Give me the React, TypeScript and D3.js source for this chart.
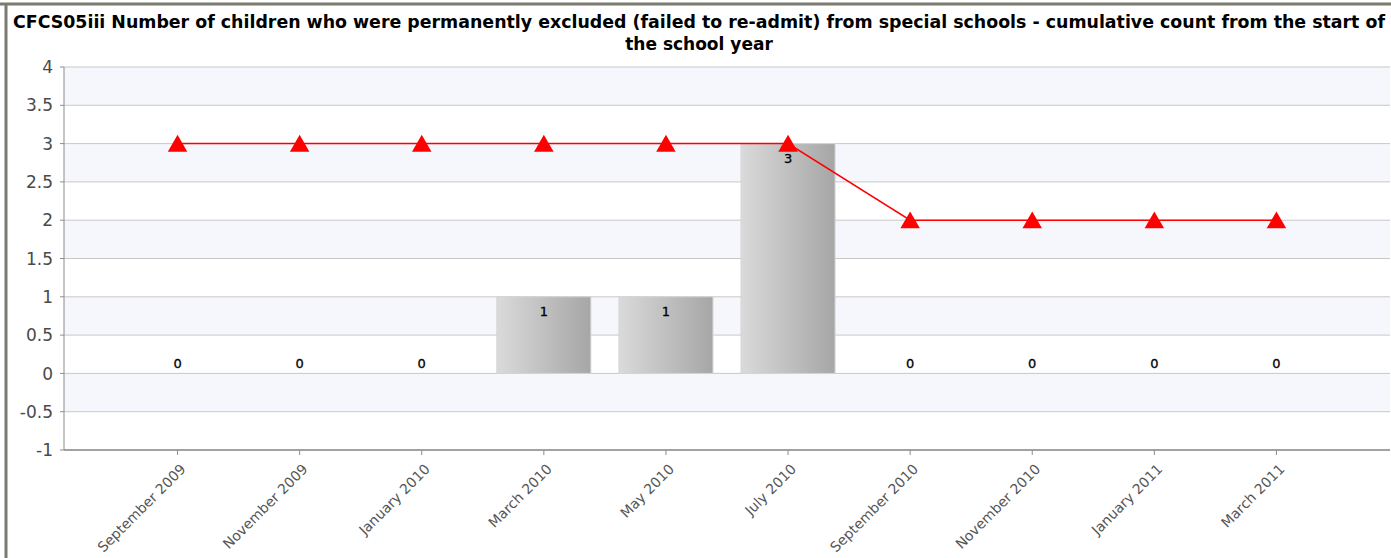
import React from "react";
import * as d3 from "d3";

const categories = [
  "September 2009", "November 2009", "January 2010", "March 2010", "May 2010",
  "July 2010", "September 2010", "November 2010", "January 2011", "March 2011",
];
const barValues = [0, 0, 0, 1, 1, 3, 0, 0, 0, 0];
const lineValues = [3, 3, 3, 3, 3, 3, 2, 2, 2, 2];
const yTicks = [-1, -0.5, 0, 0.5, 1, 1.5, 2, 2.5, 3, 3.5, 4];
const titleLines = [
  "CFCS05iii Number of children who were permanently excluded (failed to re-admit) from special schools - cumulative count from the start of",
  "the school year",
];

const W = 1391;
const H = 558;
const left = 64;
const right = 1390;
const top = 67;
const bottom = 450;

export default function App() {
  const x = d3.scalePoint<string>().domain(categories).range([left, right]).padding(0.93);
  const y = d3.scaleLinear().domain([-1, 4]).range([bottom, top]);
  const barW = 94;
  const line = d3.line<number>().x((_, i) => x(categories[i])!).y((d) => y(d));
  const tri = d3.symbol().type(d3.symbolTriangle).size(165);
  const font = "'DejaVu Sans', Verdana, sans-serif";

  const bands = [];
  for (let i = 0; i < yTicks.length - 1; i++) {
    const lo = yTicks[i];
    const hi = yTicks[i + 1];
    const shaded = (yTicks.length - 2 - i) % 2 === 0;
    bands.push(
      <rect key={"b" + i} x={left} y={y(hi)} width={right - left} height={y(lo) - y(hi)}
        fill={shaded ? "#f6f7fd" : "#ffffff"} />
    );
  }

  return (
    <svg width={W} height={H} style={{ position: "absolute", left: 0, top: 0, background: "#fff" }}
      fontFamily={font}>
      <defs>
        <linearGradient id="barGrad" x1="0" x2="1" y1="0" y2="0">
          <stop offset="0" stopColor="#dadada" />
          <stop offset="1" stopColor="#a6a6a6" />
        </linearGradient>
      </defs>
      <rect x={0} y={0} width={W} height={H} fill="#fff" />
      <line x1={0} x2={W} y1={4} y2={4} stroke="#7b7b70" strokeWidth={3} />
      <line x1={6} x2={6} y1={3} y2={H} stroke="#7b7b70" strokeWidth={3} />

      {titleLines.map((t, i) => (
        <text key={t} x={699} y={28 + i * 22} textAnchor="middle" fontSize={17} fontWeight="bold"
          fill="#000" textLength={i === 0 ? 1372 : undefined} lengthAdjust="spacingAndGlyphs"
          fontFamily="Tahoma, 'DejaVu Sans', sans-serif">{t}</text>
      ))}

      {bands}
      {yTicks.map((t) => (
        <g key={t}>
          <line x1={left} x2={right} y1={y(t)} y2={y(t)} stroke="#c8c8c8" strokeWidth={1} />
          <line x1={left - 4} x2={left} y1={y(t)} y2={y(t)} stroke="#8c8c8c" />
          <text x={left - 11} y={y(t)} dy="0.36em" textAnchor="end" fontSize={17} fill="#4a4a4a">{t}</text>
        </g>
      ))}
      <line x1={left} x2={left} y1={top} y2={bottom} stroke="#8c8c8c" />
      <line x1={left} x2={right} y1={bottom} y2={bottom} stroke="#8c8c8c" strokeWidth={1.5} />

      {categories.map((c) => (
        <g key={c}>
          <line x1={x(c)!} x2={x(c)!} y1={bottom} y2={bottom + 5} stroke="#8c8c8c" />
          <text transform={`translate(${x(c)! + 9},${bottom + 20}) rotate(-45)`} textAnchor="end"
            fontSize={14} fill="#555">{c}</text>
        </g>
      ))}

      {barValues.map((v, i) =>
        v > 0 ? (
          <rect key={"bar" + i} x={x(categories[i])! - barW / 2} y={y(v)} width={barW}
            height={y(0) - y(v)} fill="url(#barGrad)" stroke="#d4d4d4" strokeWidth={1} />
        ) : null
      )}
      {barValues.map((v, i) => (
        <text key={"lbl" + i} x={x(categories[i])!} y={v > 0 ? y(v) + 19 : y(v) - 5}
          textAnchor="middle" fontSize={13} fill="#000" stroke="#000" strokeWidth={0.3}>{v}</text>
      ))}

      <path d={line(lineValues) || ""} fill="none" stroke="#ff0000" strokeWidth={1.5} />
      {lineValues.map((v, i) => (
        <path key={"m" + i} d={tri() || ""} fill="#ff0000"
          transform={`translate(${x(categories[i])},${y(v) + 2.5})`} />
      ))}
    </svg>
  );
}
